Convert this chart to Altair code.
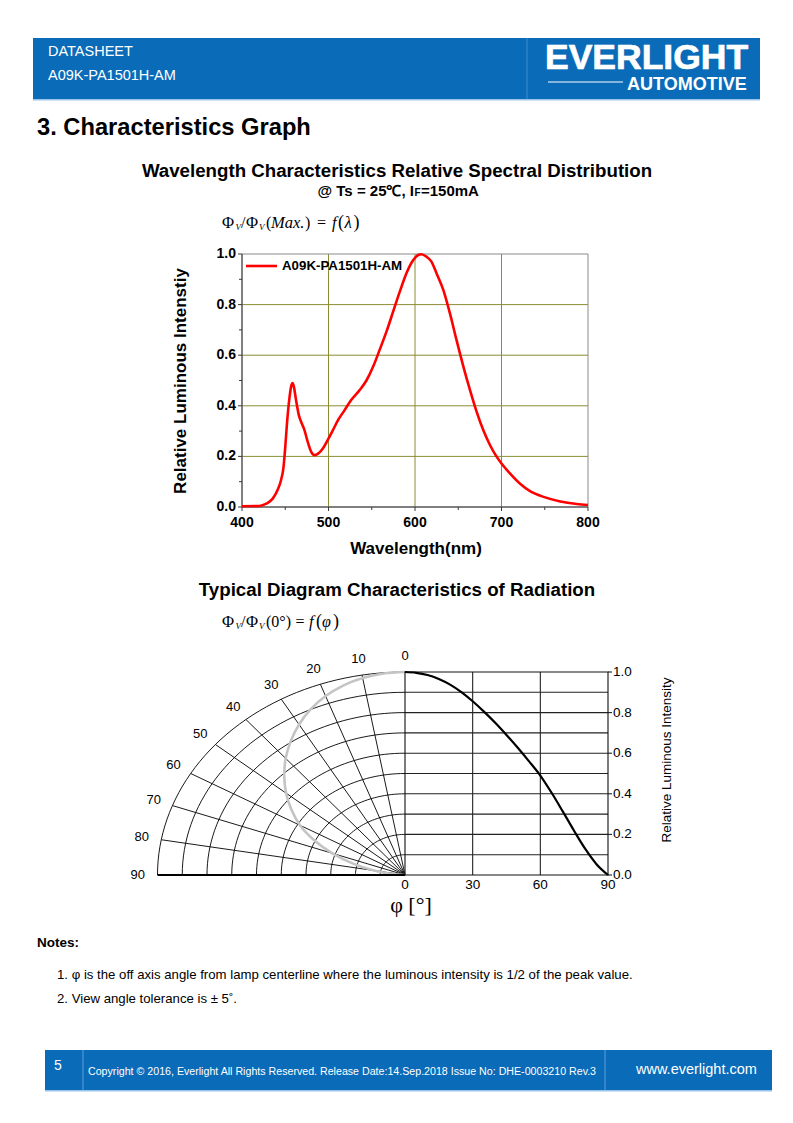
import altair as alt
import pandas as pd

# ---------------- data ----------------
wavelength_nm = [400, 420, 428, 435.5, 441, 445, 448, 450, 452, 455,
                 457, 458.5, 460, 462.6, 465.7, 468.4, 472.3, 476, 480, 484,
                 488, 493.5, 499, 505, 511, 518.6, 526, 536, 544, 551.5,
                 559, 567, 574.7, 582.4, 590, 598, 603.7, 607.5, 613, 619,
                 625, 632.7, 640.4, 648, 656, 663.6, 671.3, 679, 686.8, 694.5,
                 700, 710, 721.5, 733, 748.6, 768, 787, 800]
rel_intensity = [0.003, 0.004, 0.013, 0.033, 0.066, 0.105, 0.158, 0.237, 0.33, 0.435,
                 0.48, 0.49, 0.475, 0.42, 0.363, 0.336, 0.303, 0.257, 0.218, 0.205,
                 0.211, 0.231, 0.264, 0.303, 0.343, 0.383, 0.422, 0.462, 0.501, 0.554,
                 0.62, 0.693, 0.772, 0.851, 0.923, 0.976, 0.996, 0.999, 0.99, 0.97,
                 0.923, 0.858, 0.765, 0.66, 0.554, 0.462, 0.376, 0.303, 0.244, 0.198,
                 0.172, 0.132, 0.092, 0.063, 0.040, 0.022, 0.012, 0.008]
series_name = "A09K-PA1501H-AM"

spec_x_major = [400, 500, 600, 700, 800]
spec_x_minor = [450, 550, 650, 750]
spec_x_grid = [500, 600, 700]
spec_y_major = [0.0, 0.2, 0.4, 0.6, 0.8, 1.0]
spec_y_minor = [0.1, 0.3, 0.5, 0.7, 0.9]
spec_y_grid = [0.2, 0.4, 0.6, 0.8]
spec_x_labels = ["400", "500", "600", "700", "800"]
spec_y_labels = ["0.0", "0.2", "0.4", "0.6", "0.8", "1.0"]

angle_deg = [0, 5, 10, 15, 20, 25, 30, 35, 40, 45, 50, 55, 60, 65, 70, 75, 80, 85, 90]
rel_radiation = [1.0, 0.996, 0.985, 0.966, 0.938, 0.901, 0.856, 0.805, 0.75, 0.69,
                 0.627, 0.56, 0.49, 0.405, 0.312, 0.217, 0.127, 0.052, 0.0]

ring_radii = [0.1, 0.2, 0.3, 0.4, 0.5, 0.6, 0.7, 0.8, 0.9, 1.0]
spoke_angles = [10, 20, 30, 40, 50, 60, 70, 80]
polar_label_angles = [0, 10, 20, 30, 40, 50, 60, 70, 80, 90]
box_x_ticks = [0, 30, 60, 90]
box_x_labels = ["0", "30", "60", "90"]
box_y_lines = [0.1, 0.2, 0.3, 0.4, 0.5, 0.6, 0.7, 0.8, 0.9]
box_y_ticks = [0.0, 0.2, 0.4, 0.6, 0.8, 1.0]
box_y_labels = ["0.0", "0.2", "0.4", "0.6", "0.8", "1.0"]
box_x_grid = [30, 60]

# ---------------- helpers ----------------
SANS = "Liberation Sans, Arial, Helvetica, sans-serif"
SERIF = "Liberation Serif, Times New Roman, serif"
BLUE = "#0a6bb8"
OLIVE = "#8c8c34"
one = pd.DataFrame({"k": [0]})


def P(v):
    return v - 8  # page pixel -> chart pixel (8px body margin)


def text(s, x, y, size, weight="normal", align="left", font=SANS, color="#000000",
         angle=0, style="normal", baseline="middle", stroke=0):
    m = dict(text=s, align=align, baseline=baseline, fontSize=size, fontWeight=weight,
             font=font, color=color, fontStyle=style)
    if angle:
        m["angle"] = angle
    if stroke:
        m["stroke"] = color
        m["strokeWidth"] = stroke
    return alt.Chart(one).mark_text(**m).encode(x=alt.value(P(x)), y=alt.value(P(y)))


def box(x1, y1, x2, y2, fill):
    return alt.Chart(one).mark_rect(fill=fill).encode(
        x=alt.value(P(x1)), x2=alt.value(P(x2)), y=alt.value(P(y1)), y2=alt.value(P(y2)))


def hline(x1, x2, y, color, w=1.0):
    return alt.Chart(one).mark_rule(color=color, strokeWidth=w).encode(
        x=alt.value(P(x1)), x2=alt.value(P(x2)), y=alt.value(P(y)))


def vline(x, y1, y2, color, w=1.0):
    return alt.Chart(one).mark_rule(color=color, strokeWidth=w).encode(
        x=alt.value(P(x)), y=alt.value(P(y1)), y2=alt.value(P(y2)))


def sc(domain, r0, r1):
    return alt.Scale(domain=domain, range=[P(r0), P(r1)], nice=False, zero=False)


layers = []

# ---------------- header ----------------
layers += [
    box(33, 38, 760, 99, BLUE),
    box(33, 99, 760, 100.5, "#9cc3e8"),
    vline(527, 38, 99, "#3d8ccf"),
    text("DATASHEET", 48, 52, 14.5, color="white"),
    text("A09K-PA1501H-AM", 48, 76, 14.5, color="white"),
    text("EVERLIGHT", 545, 69, 35.5, weight="bold", color="white", baseline="alphabetic", stroke=0.7),
    hline(548, 623, 82, "white", 1.2),
    text("AUTOMOTIVE", 627, 90, 18, weight="bold", color="white", baseline="alphabetic"),
]

# ---------------- section titles ----------------
layers += [
    text("3. Characteristics Graph", 37, 128, 23.7, weight="bold"),
    text("Wavelength Characteristics Relative Spectral Distribution", 397, 171, 18.7,
         weight="bold", align="center"),
    text("@ Ts = 25\u2103, I", 414, 191, 15, weight="bold", align="right"),
    text("F", 414.5, 193, 10, weight="bold"),
    text("=150mA", 421, 191, 15, weight="bold"),
    text("Typical Diagram Characteristics of Radiation", 397, 590, 18.7,
         weight="bold", align="center"),
]


def formula(y, pieces):
    out = []
    for s, x, size, style, dy in pieces:
        out.append(text(s, x, y + dy, size, font=SERIF, style=style))
    return out


common = [("\u03a6", 222, 16.5, "normal", 0), ("V", 235.5, 9, "italic", 4),
          ("/", 241, 16, "normal", 0), ("\u03a6", 246, 16.5, "normal", 0),
          ("V", 259, 9, "italic", 4)]
layers += formula(223, common + [("(", 266, 16, "normal", 0), ("Max.", 271, 16.5, "italic", 0),
                                 (")", 305, 16, "normal", 0), ("=", 317, 16, "normal", 0),
                                 ("f", 332, 16.5, "italic", 0), ("(", 338, 18, "normal", 0),
                                 ("\u03bb", 344.5, 17, "italic", 0), (")", 353.5, 18, "normal", 0)])
layers += formula(622, common + [("(0\u00b0)", 266, 16, "normal", 0), ("=", 295.5, 16, "normal", 0),
                                 ("f", 309, 16.5, "italic", 0), ("(", 316, 18, "normal", 0),
                                 ("\u03c6", 322, 16, "italic", 0), (")", 333, 18, "normal", 0)])

# ---------------- spectral chart ----------------
XS = sc([400, 800], 242, 588)
YS = sc([0, 1], 507, 254)


def sx(field):
    return alt.X(field, scale=XS, axis=None)


def sy(field):
    return alt.Y(field, scale=YS, axis=None)


def sxd(v):
    return alt.XDatum(v, scale=XS, axis=None, type="quantitative")


def syd(v):
    return alt.YDatum(v, scale=YS, axis=None, type="quantitative")


spec_df = pd.DataFrame({"wl": wavelength_nm, "rel": rel_intensity})
layers += [
    alt.Chart(pd.DataFrame({"v": spec_x_grid})).mark_rule(color=OLIVE, strokeWidth=1).encode(
        x=sx("v:Q"), y=syd(0), y2=alt.Y2Datum(1)),
    alt.Chart(pd.DataFrame({"v": spec_y_grid})).mark_rule(color=OLIVE, strokeWidth=1).encode(
        y=sy("v:Q"), x=sxd(400), x2=alt.X2Datum(800)),
    alt.Chart(one).mark_rect(fillOpacity=0, stroke="#8a8a8a", strokeWidth=1).encode(
        x=sxd(400), x2=alt.X2Datum(800), y=syd(0), y2=alt.Y2Datum(1)),
    alt.Chart(one).mark_rule(color="#3a3a3a", strokeWidth=1).encode(
        x=sxd(400), y=syd(0), y2=alt.Y2Datum(1)),
    alt.Chart(one).mark_rule(color="#3a3a3a", strokeWidth=1).encode(
        y=syd(0), x=sxd(400), x2=alt.X2Datum(800)),
    alt.Chart(pd.DataFrame({"v": spec_x_major})).mark_rule(color="#3a3a3a", y2Offset=4).encode(
        x=sx("v:Q"), y=syd(0), y2=alt.Y2Datum(0)),
    alt.Chart(pd.DataFrame({"v": spec_x_minor})).mark_rule(color="#3a3a3a", y2Offset=3).encode(
        x=sx("v:Q"), y=syd(0), y2=alt.Y2Datum(0)),
    alt.Chart(pd.DataFrame({"v": spec_y_major})).mark_rule(color="#3a3a3a", x2Offset=-4).encode(
        y=sy("v:Q"), x=sxd(400), x2=alt.X2Datum(400)),
    alt.Chart(pd.DataFrame({"v": spec_y_minor})).mark_rule(color="#3a3a3a", x2Offset=-3).encode(
        y=sy("v:Q"), x=sxd(400), x2=alt.X2Datum(400)),
    alt.Chart(spec_df).mark_line(color="#ff0000", strokeWidth=2.6, interpolate="monotone").encode(
        x=sx("wl:Q"), y=sy("rel:Q")),
    alt.Chart(pd.DataFrame({"v": spec_x_major, "lab": spec_x_labels})).mark_text(
        dy=16, fontSize=14, fontWeight="bold", font=SANS, align="center", baseline="middle").encode(
        x=sx("v:Q"), y=syd(0), text="lab:N"),
    alt.Chart(pd.DataFrame({"v": spec_y_major, "lab": spec_y_labels})).mark_text(
        dx=-6, fontSize=14, fontWeight="bold", font=SANS, align="right", baseline="middle").encode(
        y=sy("v:Q"), x=sxd(400), text="lab:N"),
    text("Wavelength(nm)", 416, 549, 17, weight="bold", align="center"),
    text("Relative Luminous Intenstiy", 181, 381, 17, weight="bold", align="center", angle=270),
    hline(246, 277, 266, "#ff0000", 2.6),
    text(series_name, 282, 266, 13.3, weight="bold"),
]

# ---------------- polar diagram ----------------
PX = sc([-1, 0], 157.5, 405)
PY = sc([0, 1], 875, 672)
BX = sc([0, 90], 405, 608)


def px(field):
    return alt.X(field, scale=PX, axis=None)


def py(field):
    return alt.Y(field, scale=PY, axis=None)


ring_rows = [{"r": r, "phi": p} for r in ring_radii for p in range(0, 91, 2)]
spoke_rows = [{"phi": a, "r": r} for a in spoke_angles for r in (0.0, 1.0)]
rad_df = pd.DataFrame({"a": angle_deg, "f": rel_radiation})

layers += [
    alt.Chart(pd.DataFrame(ring_rows)).transform_calculate(
        px="-datum.r*sin(datum.phi*PI/180)", py="datum.r*cos(datum.phi*PI/180)"
    ).mark_line(color="#000000", strokeWidth=0.9).encode(
        x=px("px:Q"), y=py("py:Q"), detail="r:N", order="phi:Q"),
    alt.Chart(pd.DataFrame(spoke_rows)).transform_calculate(
        px="-datum.r*sin(datum.phi*PI/180)", py="datum.r*cos(datum.phi*PI/180)"
    ).mark_line(color="#000000", strokeWidth=0.9).encode(
        x=px("px:Q"), y=py("py:Q"), detail="phi:N", order="r:Q"),
    alt.Chart(rad_df).transform_calculate(
        gx="-datum.f*sin(datum.a*PI/180)", gy="datum.f*cos(datum.a*PI/180)"
    ).mark_line(color="#c4c4c4", strokeWidth=2.6, interpolate="catmull-rom").encode(
        x=px("gx:Q"), y=py("gy:Q"), order="a:Q"),
    alt.Chart(one).mark_rule(color="#000000", strokeWidth=2.2).encode(
        x=alt.XDatum(-1, scale=PX, axis=None, type="quantitative"), x2=alt.X2Datum(0),
        y=alt.YDatum(0, scale=PY, axis=None, type="quantitative")),
    alt.Chart(pd.DataFrame({"a": polar_label_angles})).transform_calculate(
        lx="-1.08*sin(datum.a*PI/180)", ly="1.08*cos(datum.a*PI/180)", lab="format(datum.a, 'd')"
    ).mark_text(fontSize=13, font=SANS, align="center", baseline="middle").encode(
        x=px("lx:Q"), y=py("ly:Q"), text="lab:N"),
]


def bx(field):
    return alt.X(field, scale=BX, axis=None)


def bxd(v):
    return alt.XDatum(v, scale=BX, axis=None, type="quantitative")


def byd(v):
    return alt.YDatum(v, scale=PY, axis=None, type="quantitative")


layers += [
    alt.Chart(pd.DataFrame({"v": box_y_lines})).mark_rule(color="#222222", strokeWidth=1.1).encode(
        y=py("v:Q"), x=bxd(0), x2=alt.X2Datum(90)),
    alt.Chart(pd.DataFrame({"v": box_x_grid})).mark_rule(color="#222222", strokeWidth=1.1).encode(
        x=bx("v:Q"), y=byd(0), y2=alt.Y2Datum(1)),
    alt.Chart(pd.DataFrame({"v": box_y_ticks})).mark_rule(color="#222222", strokeWidth=1.1, x2Offset=4).encode(
        y=py("v:Q"), x=bxd(90), x2=alt.X2Datum(90)),
    alt.Chart(one).mark_rect(fillOpacity=0, stroke="#111111", strokeWidth=1.1).encode(
        x=bxd(0), x2=alt.X2Datum(90), y=byd(0), y2=alt.Y2Datum(1)),
    alt.Chart(rad_df).mark_line(color="#000000", strokeWidth=2.2, interpolate="monotone").encode(
        x=bx("a:Q"), y=py("f:Q")),
    alt.Chart(pd.DataFrame({"v": box_y_ticks, "lab": box_y_labels})).mark_text(
        dx=5, fontSize=13.5, font=SANS, align="left", baseline="middle").encode(
        y=py("v:Q"), x=bxd(90), text="lab:N"),
    alt.Chart(pd.DataFrame({"v": box_x_ticks, "lab": box_x_labels})).mark_text(
        dy=10, fontSize=13.5, font=SANS, align="center", baseline="middle").encode(
        x=bx("v:Q"), y=byd(0), text="lab:N"),
    text("Relative Luminous Intensity", 667, 760, 13.5, align="center", angle=270),
    text("\u03c6 [\u00b0]", 411, 905, 22, font=SERIF, align="center"),
]

# ---------------- notes & footer ----------------
layers += [
    text("Notes:", 37, 943, 13.5, weight="bold"),
    text("1. \u03c6 is the off axis angle from lamp centerline where the luminous intensity is 1/2 of the peak value.",
         57, 975, 13.2),
    text("2. View angle tolerance is \u00b1 5\u02da.", 57, 999, 13.2),
    box(45, 1050, 772, 1090, BLUE),
    box(45, 1090, 772, 1091.5, "#9cc3e8"),
    vline(83, 1050, 1090, "#5f9fd8"),
    vline(605, 1050, 1090, "#5f9fd8"),
    text("5", 58, 1066, 14, color="white", align="center"),
    text("Copyright \u00a9 2016, Everlight All Rights Reserved. Release Date:14.Sep.2018 Issue No: DHE-0003210 Rev.3",
         88, 1072, 10.65, color="white"),
    text("www.everlight.com", 636, 1070, 14.5, color="white"),
]

chart = alt.layer(*layers).resolve_scale(x="independent", y="independent").properties(
    width=777, height=1107, padding=0,
    autosize=alt.AutoSizeParams(type="none"),
).configure_view(strokeWidth=0)

chart.save("out.html", embed_options={"renderer": "svg", "actions": False})
